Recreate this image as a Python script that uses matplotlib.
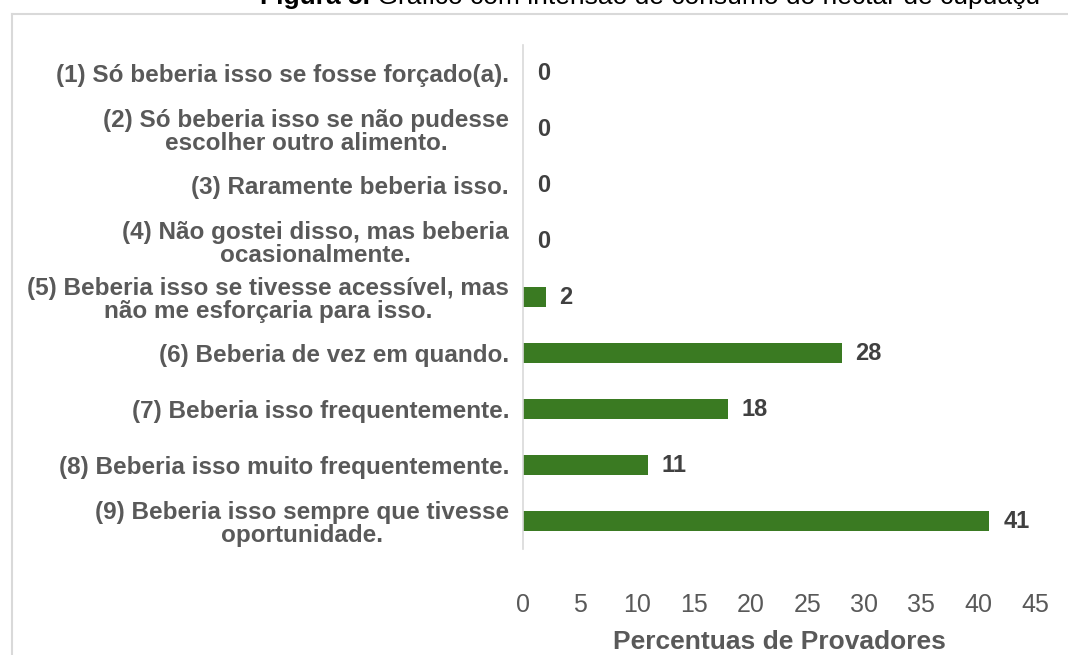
#!/usr/bin/env python3

import matplotlib

matplotlib.use("Agg")

import numpy as np
from matplotlib import pyplot as plt
from matplotlib.lines import Line2D
from matplotlib import font_manager


# Data
categories = [
    "(1) Só beberia isso se fosse forçado(a).",
    "(2) Só beberia isso se não pudesse\nescolher outro alimento.",
    "(3) Raramente beberia isso.",
    "(4) Não gostei disso, mas beberia\nocasionalmente.",
    "(5) Beberia isso se tivesse acessível, mas\nnão me esforçaria para isso.",
    "(6) Beberia de vez em quando.",
    "(7) Beberia isso frequentemente.",
    "(8) Beberia isso muito frequentemente.",
    "(9) Beberia isso sempre que tivesse\noportunidade.",
]
percent = [0, 0, 0, 0, 2, 28, 18, 11, 41]
xticks = [0, 5, 10, 15, 20, 25, 30, 35, 40, 45]

xlabel = "Percentuas de Provadores"
title_bold = "Figura 5."
title_rest = " Gráfico com intensão de consumo do néctar de cupuaçu"

# ------------------------------------------------------

params = {
    "font.family": ["Liberation Sans", "DejaVu Sans"],
    "font.size": 14,
}
matplotlib.rcParams.update(params)

# condensed face for the tick numbers, if it is there
names = {f.name for f in font_manager.fontManager.ttflist}
narrow = "Liberation Sans Narrow" if "Liberation Sans Narrow" in names else "Liberation Sans"

W, H = 1068, 655
fig = plt.figure(figsize=(W / 100, H / 100), dpi=100)
fig.patch.set_facecolor("white")

ax = fig.add_axes([523 / W, 1 - 549 / H, (1035 - 523) / W, (549 - 45) / H])

label_grey = "#595959"
bar_green = "#3a7a22"

y = np.arange(len(categories))
ax.barh(y, percent, height=0.36, color=bar_green)

for yi, v in zip(y, percent):
    ax.text(v + 1.2, yi, str(v), va="center", ha="left",
            fontsize=17, fontweight="bold", color="#404040")

ax.set_xlim(0, 45)
ax.set_ylim(len(categories) - 0.5, -0.5)
ax.set_xticks(xticks)
ax.set_xticklabels([str(t) for t in xticks], family=narrow, fontsize=18)
ax.set_yticks(y)
ax.set_yticklabels(categories, fontweight="bold", color=label_grey,
                   fontsize=17.5, multialignment="center", linespacing=1.05)

ax.tick_params(axis="x", length=0, pad=32, labelcolor=label_grey)
ax.tick_params(axis="y", length=0, pad=10)

for s in ["top", "right", "bottom"]:
    ax.spines[s].set_visible(False)
ax.spines["left"].set_color("#d9d9d9")
ax.spines["left"].set_linewidth(1.2)

ax.set_xlabel(xlabel, fontsize=19, fontweight="bold", color=label_grey,
              labelpad=9)

# light frame around the chart, cut by the image edges
fig.add_artist(Line2D([12 / W, 12 / W], [0, 1 - 14 / H],
                      transform=fig.transFigure, color="#d9d9d9", lw=1.5))
fig.add_artist(Line2D([12 / W, 1], [1 - 14 / H, 1 - 14 / H],
                      transform=fig.transFigure, color="#d9d9d9", lw=1.5))

# figure caption, partly cut off at the top like the source
t1 = fig.text(260 / W, 1 - 4 / H, title_bold, fontsize=19, fontweight="bold",
              color="black", ha="left", va="baseline")
fig.canvas.draw()
bb = t1.get_window_extent()
fig.text(bb.x1 / W, 1 - 4 / H, title_rest, fontsize=19, color="black",
         ha="left", va="baseline")

plt.savefig("out.png", dpi=100)
